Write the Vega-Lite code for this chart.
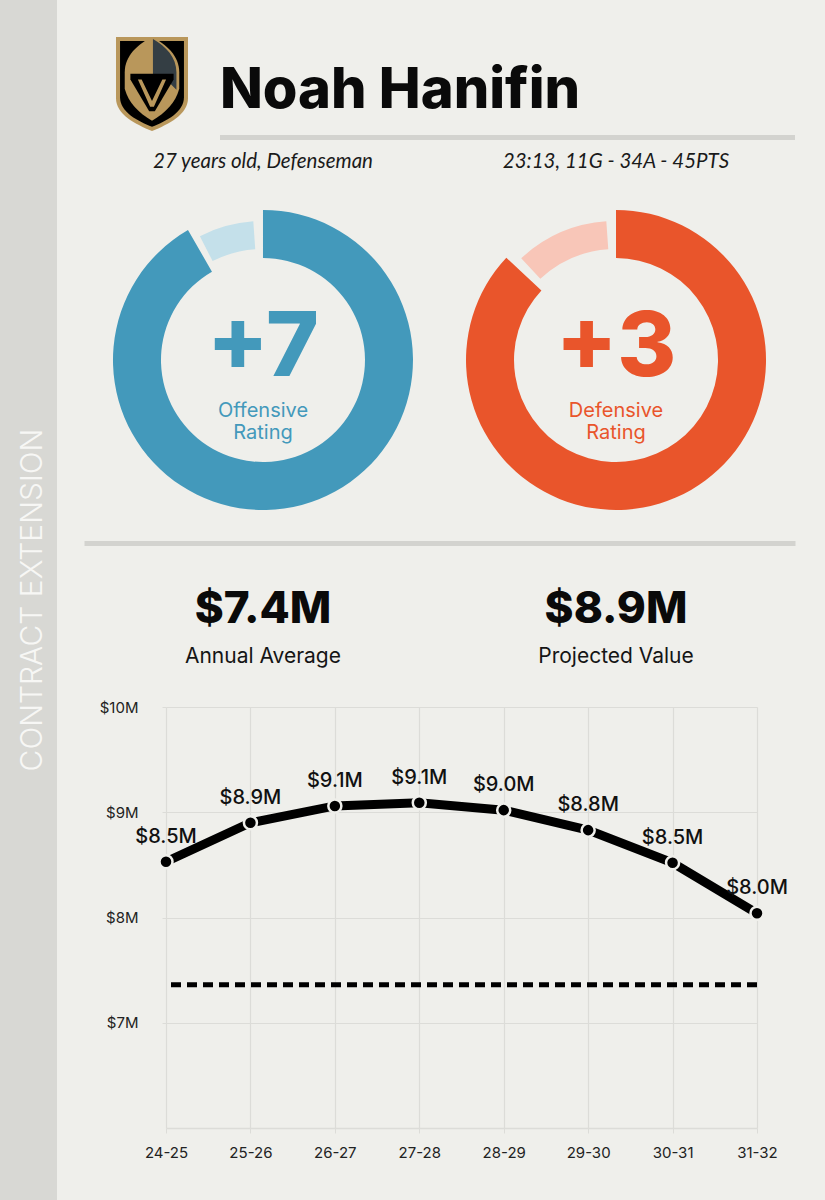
{
  "$schema": "https://vega.github.io/schema/vega-lite/v6.json",
  "background": "#efefeb",
  "padding": {"left": 0, "top": 0, "right": 30, "bottom": 0},
  "bounds": "flush",
  "spacing": 27,
  "config": {
    "view": {"stroke": null},
    "font": "Inter",
    "text": {"font": "Inter"}
  },
  "datasets": {
    "donut_segments": [
      {"panel": "left", "metric": "Offensive", "part": "rating", "start_deg": 0, "end_deg": 330},
      {"panel": "left", "metric": "Offensive", "part": "remainder", "start_deg": 333, "end_deg": 356},
      {"panel": "right", "metric": "Defensive", "part": "rating", "start_deg": 0, "end_deg": 313},
      {"panel": "right", "metric": "Defensive", "part": "remainder", "start_deg": 317, "end_deg": 356}
    ],
    "ratings": [
      {"panel": "left", "metric": "Offensive", "rating": "+7", "label": "Offensive Rating"},
      {"panel": "right", "metric": "Defensive", "rating": "+3", "label": "Defensive Rating"}
    ],
    "player_info": [
      {"panel": "left", "info": "27 years old, Defenseman"},
      {"panel": "right", "info": "23:13, 11G - 34A - 45PTS"}
    ],
    "contract": [
      {"panel": "left", "amount": "$7.4M", "caption": "Annual Average"},
      {"panel": "right", "amount": "$8.9M", "caption": "Projected Value"}
    ],
    "projection": [
      {"season": "24-25", "value": 8.53, "label": "$8.5M"},
      {"season": "25-26", "value": 8.90, "label": "$8.9M"},
      {"season": "26-27", "value": 9.06, "label": "$9.1M"},
      {"season": "27-28", "value": 9.09, "label": "$9.1M"},
      {"season": "28-29", "value": 9.02, "label": "$9.0M"},
      {"season": "29-30", "value": 8.83, "label": "$8.8M"},
      {"season": "30-31", "value": 8.52, "label": "$8.5M"},
      {"season": "31-32", "value": 8.04, "label": "$8.0M"}
    ],
    "average": [{"annual_average": 7.36}]
  },
  "hconcat": [
    {
      "width": 57,
      "height": 1200,
      "view": {"fill": "#d8d8d4", "stroke": null},
      "data": {"values": [{"section": "CONTRACT EXTENSION"}]},
      "mark": {"type": "text", "angle": 270, "font": "Inter", "fontSize": 30, "fontWeight": 300, "color": "#f7f7f5", "baseline": "middle", "align": "center", "dy": 4},
      "encoding": {"text": {"field": "section"}}
    },
    {
      "vconcat": [
        {
          "hconcat": [
            {
              "width": 136,
              "height": 140,
              "data": {"values": [{"team": "Vegas Golden Knights"}]},
              "layer": [
                {"mark": {"type": "point", "filled": true, "opacity": 1, "size": 8836, "color": "#b9975b", "strokeWidth": 0,
                  "shape": "M -0.766,-0.7 L 0.766,-0.7 L 0.766,0.6 C 0.766,0.95 0.35,1.15 0,1.3 C -0.35,1.15 -0.766,0.95 -0.766,0.6 Z"}, "encoding": {}},
                {"mark": {"type": "point", "filled": true, "opacity": 1, "size": 8836, "color": "#000000", "strokeWidth": 0,
                  "shape": "M -0.68,-0.615 L 0.68,-0.615 L 0.68,0.58 C 0.68,0.9 0.31,1.08 0,1.21 C -0.31,1.08 -0.68,0.9 -0.68,0.58 Z"}, "encoding": {}},
                {"mark": {"type": "point", "filled": true, "opacity": 1, "size": 8836, "color": "#b9975b", "strokeWidth": 0,
                  "shape": "M 0,-0.7 C -0.3,-0.55 -0.58,-0.3 -0.58,0.05 L -0.58,0.4 C -0.5,0.7 -0.3,0.9 0,1.08 C 0.3,0.9 0.5,0.7 0.58,0.4 L 0.58,0.05 C 0.58,-0.3 0.3,-0.55 0,-0.7 Z"}, "encoding": {}},
                {"mark": {"type": "point", "filled": true, "opacity": 1, "size": 8836, "color": "#343e44", "strokeWidth": 0,
                  "shape": "M 0.02,-0.66 C 0.3,-0.5 0.52,-0.27 0.52,0.05 L 0.52,0.42 L 0.3,0.2 L 0.02,0.2 Z"}, "encoding": {}},
                {"mark": {"type": "point", "filled": true, "opacity": 1, "size": 8836, "color": "#000000", "strokeWidth": 0,
                  "shape": "M -0.46,0.08 L 0.46,0.08 L 0.46,0.2 L 0.06,0.88 L -0.06,0.88 L -0.46,0.2 Z"}, "encoding": {}},
                {"mark": {"type": "point", "filled": true, "opacity": 1, "size": 8836, "color": "#b9975b", "strokeWidth": 0,
                  "shape": "M -0.3,0.2 L -0.22,0.2 L 0,0.66 L 0.22,0.2 L 0.3,0.2 L 0.04,0.78 L -0.04,0.78 Z"}, "encoding": {}}
              ]
            },
            {
              "vconcat": [
                {
                  "width": 360,
                  "height": 128,
                  "data": {"values": [{"player": "Noah Hanifin"}]},
                  "mark": {"type": "text", "font": "Inter", "fontSize": 56, "fontWeight": 800, "color": "#0a0a0a", "baseline": "top", "align": "center"},
                  "encoding": {"text": {"field": "player"}}
                },
                {
                  "width": 575,
                  "height": 5,
                  "data": {"values": [{"divider": "header"}]},
                  "mark": {"type": "rect", "color": "#d3d3cf"},
                  "encoding": {}
                }
              ],
              "spacing": 7,
              "bounds": "flush"
            }
          ],
          "spacing": 0,
          "bounds": "flush"
        },
        {
          "width": 711,
          "height": 37,
          "data": {"name": "player_info"},
          "mark": {"type": "text", "font": "Lato", "fontStyle": "italic", "fontSize": 20.5, "color": "#1a1a1a", "baseline": "alphabetic", "dy": 9.5},
          "encoding": {
            "x": {"field": "panel", "type": "nominal", "scale": {"type": "point", "domain": ["left", "right"], "padding": 0.507}, "axis": null},
            "text": {"field": "info"}
          }
        },
        {
          "width": 711,
          "height": 366,
          "layer": [
            {
              "data": {"name": "donut_segments"},
              "transform": [{"filter": "datum.part === 'rating'"}],
              "mark": {"type": "arc", "outerRadius": 150, "innerRadius": 102},
              "encoding": {
                "x": {"field": "panel", "type": "nominal", "scale": {"type": "point", "domain": ["left", "right"], "padding": 0.507},
                  "axis": {"orient": "bottom", "title": null, "labels": false, "ticks": false, "grid": false, "domain": true, "domainColor": "#d3d3cf", "domainWidth": 5}},
                "theta": {"field": "start_deg", "type": "quantitative", "scale": {"domain": [0, 360]}},
                "theta2": {"field": "end_deg"},
                "color": {"field": "metric", "type": "nominal", "scale": {"domain": ["Offensive", "Defensive"], "range": ["#4399bb", "#e9552b"]}, "legend": null}
              }
            },
            {
              "data": {"name": "donut_segments"},
              "transform": [{"filter": "datum.part === 'remainder'"}],
              "mark": {"type": "arc", "outerRadius": 139, "innerRadius": 111},
              "encoding": {
                "x": {"field": "panel", "type": "nominal"},
                "theta": {"field": "start_deg", "type": "quantitative"},
                "theta2": {"field": "end_deg"},
                "color": {"field": "metric", "type": "nominal", "scale": {"domain": ["Offensive", "Defensive"], "range": ["#c4e0ea", "#f8c6b8"]}, "legend": null}
              }
            },
            {
              "data": {"name": "ratings"},
              "mark": {"type": "text", "font": "Inter", "fontSize": 90, "fontWeight": 800, "baseline": "alphabetic", "dy": 16},
              "encoding": {
                "x": {"field": "panel", "type": "nominal"},
                "text": {"field": "rating"},
                "color": {"field": "metric", "type": "nominal", "scale": {"domain": ["Offensive", "Defensive"], "range": ["#4399bb", "#e9552b"]}, "legend": null}
              }
            },
            {
              "data": {"name": "ratings"},
              "mark": {"type": "text", "font": "Inter", "fontSize": 20, "fontWeight": 400, "baseline": "alphabetic", "dy": 57, "lineBreak": " ", "lineHeight": 22},
              "encoding": {
                "x": {"field": "panel", "type": "nominal"},
                "text": {"field": "label"},
                "color": {"field": "metric", "type": "nominal", "scale": {"domain": ["Offensive", "Defensive"], "range": ["#4399bb", "#e9552b"]}, "legend": null}
              }
            }
          ],
          "resolve": {"scale": {"color": "independent"}}
        },
        {
          "width": 711,
          "height": 156.5,
          "data": {"name": "contract"},
          "encoding": {
            "x": {"field": "panel", "type": "nominal", "scale": {"type": "point", "domain": ["left", "right"], "padding": 0.507}, "axis": null}
          },
          "layer": [
            {
              "mark": {"type": "text", "font": "Inter", "fontSize": 44, "fontWeight": 800, "color": "#0a0a0a", "baseline": "alphabetic", "dy": 1.25},
              "encoding": {"text": {"field": "amount"}}
            },
            {
              "mark": {"type": "text", "font": "Inter", "fontSize": 21, "fontWeight": 400, "color": "#151515", "baseline": "alphabetic", "dy": 41.25},
              "encoding": {"text": {"field": "caption"}}
            }
          ]
        },
        {
          "hconcat": [
            {
              "width": 1,
              "height": 1,
              "data": {"values": []},
              "mark": "point"
            },
            {
              "width": 591,
              "height": 421,
              "layer": [
                {
                  "data": {"name": "average"},
                  "mark": {"type": "rule", "color": "#000000", "strokeWidth": 5, "strokeDash": [10, 6]},
                  "encoding": {
                    "y": {"field": "annual_average", "type": "quantitative"}
                  }
                },
                {
                  "data": {"name": "projection"},
                  "mark": {"type": "line", "color": "#000000", "strokeWidth": 9},
                  "encoding": {
                    "x": {"field": "season", "type": "ordinal", "scale": {"type": "point", "padding": 0},
                      "axis": {"title": null, "labelAngle": 0, "labelFont": "Inter", "labelFontSize": 15, "labelColor": "#222222", "labelPadding": 12,
                        "tickColor": "#dcdcd8", "tickSize": 5, "domainColor": "#dcdcd8", "domainWidth": 1.5, "grid": true, "gridColor": "#dcdcd8", "gridWidth": 1.2}},
                    "y": {"field": "value", "type": "quantitative", "scale": {"domain": [6, 10], "nice": false, "zero": false},
                      "axis": {"title": null, "values": [7, 8, 9, 10], "labelExpr": "'$' + datum.value + 'M'", "labelFont": "Inter", "labelFontSize": 15, "labelColor": "#222222",
                        "labelPadding": 24, "domain": false, "tickColor": "#dcdcd8", "tickSize": 4, "grid": true, "gridColor": "#dcdcd8", "gridWidth": 1.2}}
                  }
                },
                {
                  "data": {"name": "projection"},
                  "mark": {"type": "point", "filled": true, "opacity": 1, "fill": "#000000", "stroke": "#efefeb", "strokeWidth": 2.5, "size": 170},
                  "encoding": {
                    "x": {"field": "season", "type": "ordinal"},
                    "y": {"field": "value", "type": "quantitative"}
                  }
                },
                {
                  "data": {"name": "projection"},
                  "mark": {"type": "text", "font": "Inter", "fontSize": 20, "fontWeight": 500, "color": "#111111", "baseline": "alphabetic", "dy": -19},
                  "encoding": {
                    "x": {"field": "season", "type": "ordinal"},
                    "y": {"field": "value", "type": "quantitative"},
                    "text": {"field": "label"}
                  }
                }
              ]
            }
          ],
          "spacing": 81,
          "bounds": "flush"
        }
      ],
      "spacing": 0,
      "bounds": "full"
    }
  ]
}
